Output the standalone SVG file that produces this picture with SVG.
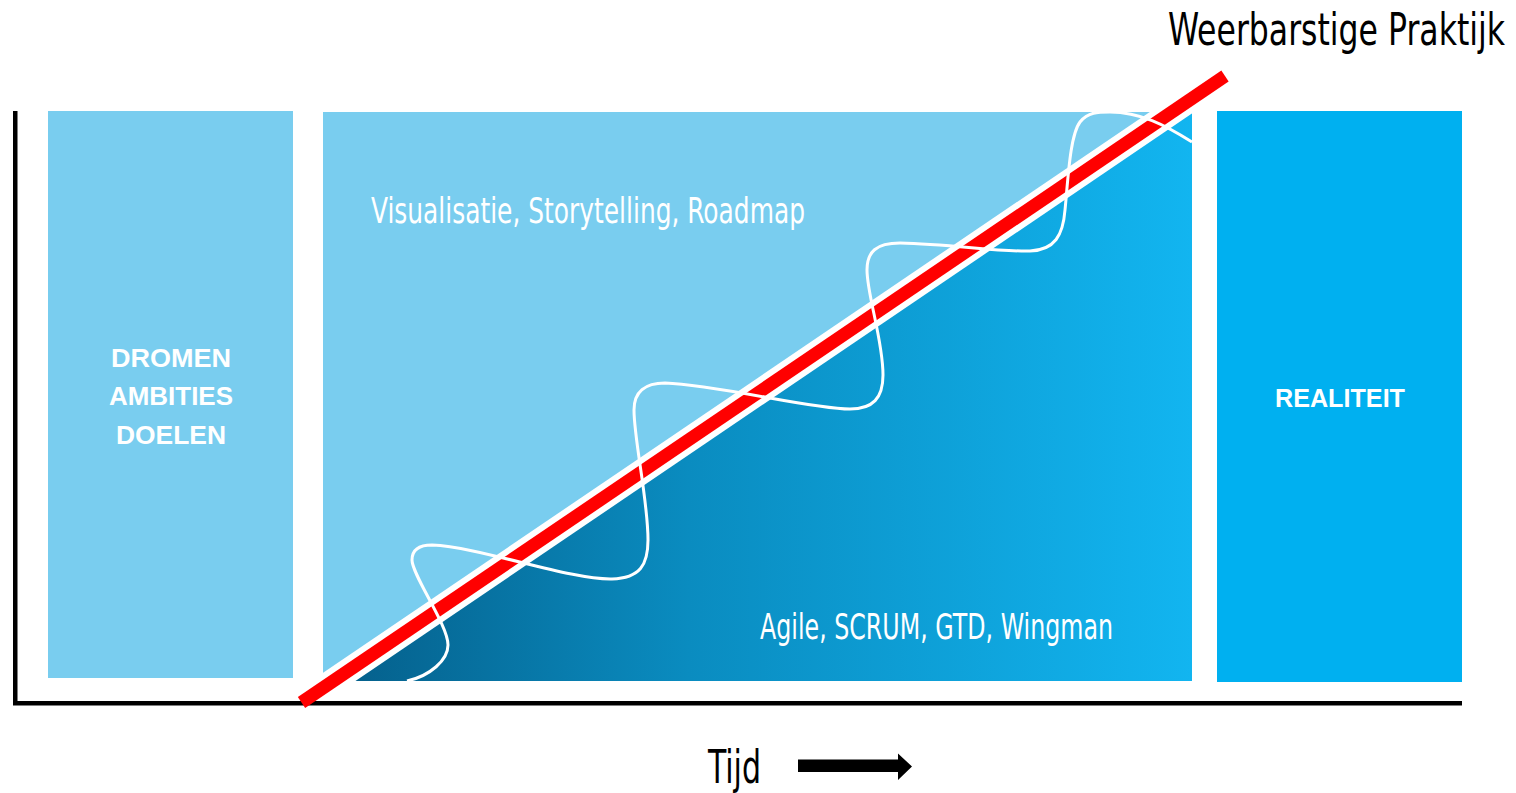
<svg xmlns="http://www.w3.org/2000/svg" width="1516" height="793" viewBox="0 0 1516 793">
  <defs>
    <style>
      .light { fill: #79CDEF; }
      .cond { font-family: "Liberation Sans Narrow", "DejaVu Sans Condensed", "Liberation Sans", sans-serif; }
      .bold { font-family: "Liberation Sans", "DejaVu Sans", sans-serif; font-weight: bold; fill: #ffffff; font-size: 25px; text-anchor: middle; }
      .wtext { fill: #ffffff; font-size: 35px; }
      .btext { fill: #000000; font-size: 46px; }
      .title { fill: #000000; font-size: 45px; text-anchor: end; }
    </style>
    <linearGradient id="grad" gradientUnits="userSpaceOnUse" x1="354" y1="0" x2="1192" y2="0">
      <stop offset="0" stop-color="#05618D"/>
      <stop offset="0.4" stop-color="#0A8CC0"/>
      <stop offset="1" stop-color="#12B5F0"/>
    </linearGradient>
    <clipPath id="clipMid">
      <rect x="0" y="0" width="1516" height="681"/>
    </clipPath>
  </defs>

  <rect width="1516" height="793" fill="#ffffff"/>

  <g id="axes">
    <rect x="13" y="111" width="4.5" height="594" fill="#000000"/>
    <rect x="13" y="701" width="1449" height="4.5" fill="#000000"/>
  </g>

  <g id="node-dromen">
    <rect class="light" x="48" y="111" width="245" height="567"/>
    <text class="bold" x="171" y="366.5" textLength="120" lengthAdjust="spacingAndGlyphs">DROMEN</text>
    <text class="bold" x="171" y="405" textLength="124" lengthAdjust="spacingAndGlyphs">AMBITIES</text>
    <text class="bold" x="171" y="443.5" textLength="110" lengthAdjust="spacingAndGlyphs">DOELEN</text>
  </g>

  <g id="node-midden">
    <rect class="light" x="323" y="112" width="869" height="569"/>
    <polygon points="354,681 1192,681 1192,112" fill="url(#grad)"/>
    <text class="cond wtext" x="371" y="223" textLength="434" lengthAdjust="spacingAndGlyphs">Visualisatie, Storytelling, Roadmap</text>
    <text class="cond wtext" x="760" y="639" textLength="353" lengthAdjust="spacingAndGlyphs">Agile, SCRUM, GTD, Wingman</text>
  </g>

  <g id="node-realiteit">
    <rect x="1217" y="111" width="245" height="571" fill="#00B0F0"/>
    <text class="bold" x="1340" y="406.5" textLength="130" lengthAdjust="spacingAndGlyphs">REALITEIT</text>
  </g>

  <g id="connectors">
    <line x1="301.5" y1="702.5" x2="1225" y2="76" stroke="#ffffff" stroke-width="25" clip-path="url(#clipMid)"/>
    <line x1="301.5" y1="702.5" x2="1225" y2="76" stroke="#FF0000" stroke-width="13"/>
    <path d="M 407 681 C 430 676, 448 660, 448 645 C 448 625, 412 575, 412 560 C 412 548, 422 545, 432 545 C 480 547, 570 580, 612 579 C 640 578, 648 565, 648 540 C 648 500, 634 440, 634 410 C 634 392, 645 383, 665 383 C 720 385, 810 409, 850 409 C 873 409, 883 398, 883 375 C 883 340, 867 295, 867 270 C 867 252, 876 243, 900 243 C 950 244, 1000 252, 1030 251 C 1055 250, 1063 235, 1065 210 C 1068 180, 1070 135, 1080 122 C 1088 112, 1098 112, 1110 112 C 1140 112, 1165 125, 1192 142" fill="none" stroke="#ffffff" stroke-width="3"/>
  </g>

  <g id="title">
    <text class="cond title" x="1505" y="45" textLength="337" lengthAdjust="spacingAndGlyphs">Weerbarstige Praktijk</text>
  </g>

  <g id="time-axis">
    <text class="cond btext" x="708" y="783" textLength="53" lengthAdjust="spacingAndGlyphs">Tijd</text>
    <polygon points="798,759.5 898,759.5 898,753.5 912,766.5 898,780 898,772 798,772" fill="#000000"/>
  </g>
</svg>
